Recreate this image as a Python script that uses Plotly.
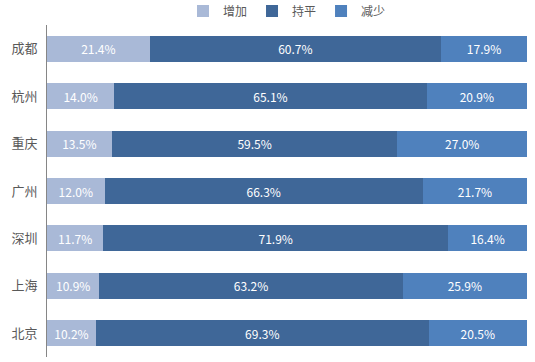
import plotly.graph_objects as go

cities = ["成都", "杭州", "重庆", "广州", "深圳", "上海", "北京"]
increase = [21.4, 14.0, 13.5, 12.0, 11.7, 10.9, 10.2]
flat = [60.7, 65.1, 59.5, 66.3, 71.9, 63.2, 69.3]
decrease = [17.9, 20.9, 27.0, 21.7, 16.4, 25.9, 20.5]

series = [("增加", increase, "#A9B9D7"), ("持平", flat, "#3F6798"), ("减少", decrease, "#4F81BD")]

fig = go.Figure()
for name, vals, color in series:
    fig.add_trace(go.Bar(
        y=cities, x=vals, name=name, orientation="h",
        marker=dict(color=color, line=dict(width=0)),
        text=[f"{v:.1f}%" for v in vals], textposition="inside",
        insidetextanchor="middle",
        textfont=dict(color="white", size=12, family="Noto Sans CJK SC"),
        hoverinfo="skip",
    ))

fig.update_layout(
    barmode="stack", bargap=0.45,
    width=535, height=362,
    margin=dict(l=47, r=8, t=25, b=5, autoexpand=False),
    plot_bgcolor="white", paper_bgcolor="white",
    font=dict(family="Noto Sans CJK SC", size=12, color="#595959"),
    showlegend=True,
    legend=dict(orientation="h", x=0.5, xanchor="center", y=1.042, yanchor="middle",
                xref="paper", font=dict(size=12, color="#595959"),
                itemwidth=30, traceorder="normal", bgcolor="rgba(0,0,0,0)"),
    uniformtext=dict(minsize=8, mode="show"),
)
fig.update_xaxes(range=[0, 100], showgrid=False, showticklabels=False, zeroline=False, showline=False)
fig.update_yaxes(autorange="reversed", showline=True, linecolor="#868686", linewidth=1,
                 ticks="", tickfont=dict(size=13, color="#595959"), ticklabelstandoff=6,
                 automargin=False)

fig.write_html("out.html", config={"displayModeBar": False, "staticPlot": True},
               post_script="document.body.style.margin='0';document.body.style.overflow='hidden';")
